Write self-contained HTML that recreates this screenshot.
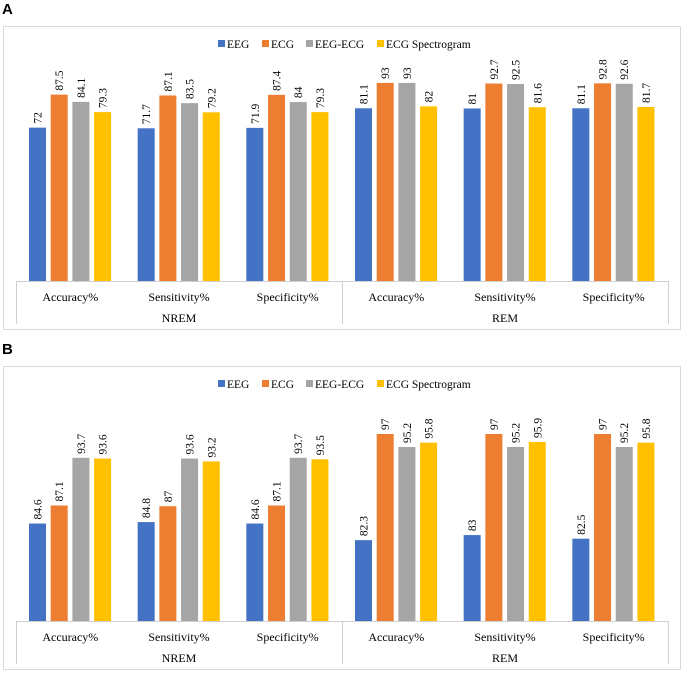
<!DOCTYPE html>
<html><head><meta charset="utf-8"><style>
body{margin:0;background:#fff;}
svg{display:block;font-family:"Liberation Serif",serif;}
</style></head><body>
<svg id="s" width="685" height="680"></svg>
<script>
const categories=["Accuracy%","Sensitivity%","Specificity%","Accuracy%","Sensitivity%","Specificity%"];
const groups=["NREM","REM"];
const seriesNames=["EEG","ECG","EEG-ECG","ECG Spectrogram"];
const colors=["#4472c4","#ed7d31","#a5a5a5","#ffc000"];
const aEEG=[72,71.7,71.9,81.1,81,81.1];
const aECG=[87.5,87.1,87.4,93,92.7,92.8];
const aEEGECG=[84.1,83.5,84,93,92.5,92.6];
const aSpec=[79.3,79.2,79.3,82,81.6,81.7];
const bEEG=[84.6,84.8,84.6,82.3,83,82.5];
const bECG=[87.1,87,87.1,97,97,97];
const bEEGECG=[93.7,93.6,93.7,95.2,95.2,95.2];
const bSpec=[93.6,93.2,93.5,95.8,95.9,95.8];
const NS="http://www.w3.org/2000/svg";
const svg=document.getElementById('s');
function mk(t,a,p){const e=document.createElementNS(NS,t);for(const k in a)e.setAttribute(k,a[k]);(p||svg).appendChild(e);return e;}
function panel(letter,y0,series,vmin,scale,pname){
  const g=mk('g',{});
  
  
  const L=mk('text',{x:2,y:y0+14,'font-family':'Liberation Sans,sans-serif','font-weight':'bold','font-size':15,fill:'#000'},g);L.textContent=letter;
  
  
  const fr=mk('rect',{x:3.5,y:y0+26.5,width:677,height:303,fill:'none',stroke:'#d9d9d9'},g);
  
  
  const base=y0+281;
  const x0=16,x1=668,cw=(x1-x0)/6;
  const lx=[218,262,306,377];
  seriesNames.forEach((n,i)=>{
    const lg=mk('g',{},g);
    
    
    mk('rect',{x:lx[i],y:y0+40,width:7,height:7,fill:colors[i]},lg);
    const t=mk('text',{x:lx[i]+9,y:y0+48,'font-size':11.5,fill:'#000'},lg);t.textContent=n;
  });
  const yv=v=>base-(v-vmin)*scale;
  series.forEach((arr,si)=>{
    arr.forEach((v,ci)=>{
      const bx=x0+ci*cw+13+si*21.7;
      const r=mk('rect',{x:bx,y:yv(v),width:17,height:base-yv(v),fill:colors[si]},g);
      
      
      const tx=bx+12.5,ty=yv(v)-4;
      const t=mk('text',{x:tx,y:ty,'font-size':11.5,fill:'#000',transform:`rotate(-90 ${tx} ${ty})`},g);t.textContent=v;
      
      
    });
  });
  const ax=mk('g',{stroke:'#d0d0d0',fill:'none'},g);
  
  
  mk('line',{x1:x0,y1:base+0.5,x2:x1,y2:base+0.5},ax);
  mk('line',{x1:x0+0.5,y1:base,x2:x0+0.5,y2:base+43},ax);
  mk('line',{x1:(x0+x1)/2+0.5,y1:base,x2:(x0+x1)/2+0.5,y2:base+43},ax);
  mk('line',{x1:x1+0.5,y1:base,x2:x1+0.5,y2:base+43},ax);
  categories.forEach((c,ci)=>{
    const t=mk('text',{x:x0+(ci+0.5)*cw,y:base+20,'font-size':12,'text-anchor':'middle',fill:'#000'},g);t.textContent=c;
    
    
  });
  groups.forEach((c,gi)=>{
    const t=mk('text',{x:x0+(gi*3+1.5)*cw,y:base+41,'font-size':12,'text-anchor':'middle',fill:'#000'},g);t.textContent=c;
    
    
  });
}
panel('A',0,[aEEG,aECG,aEEGECG,aSpec],0,2.13,'panel-a');
panel('B',340,[bEEG,bECG,bEEGECG,bSpec],71.1,7.22,'panel-b');
</script>
</body></html>
